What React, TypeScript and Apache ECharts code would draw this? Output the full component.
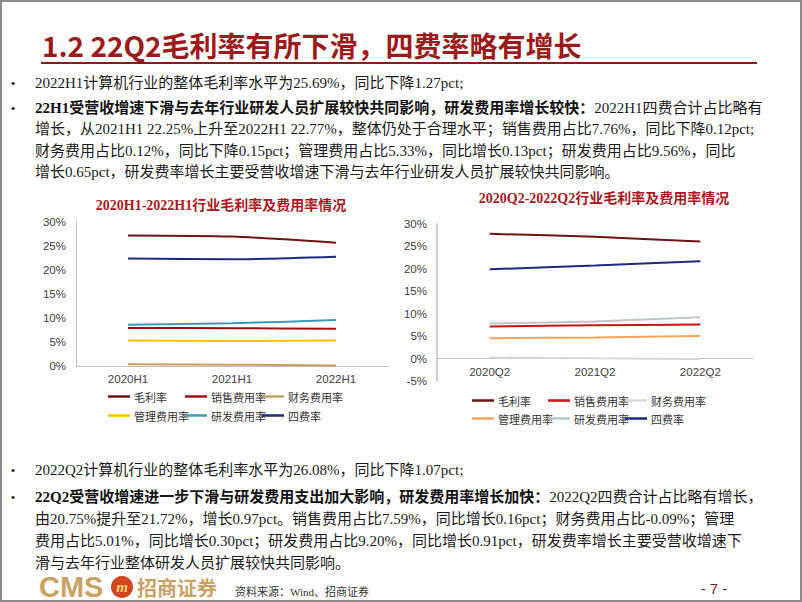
import { useEffect, useRef } from 'react';
import * as echarts from 'echarts';

// ---------- data ----------
const seriesNames = ['毛利率', '销售费用率', '财务费用率', '管理费用率', '研发费用率', '四费率'];

const categoriesH1 = ['2020H1', '2021H1', '2022H1'];
const grossH1 = [27.2, 26.96, 25.69];
const salesH1 = [7.9, 7.88, 7.76];
const financeH1 = [0.38, 0.27, 0.12];
const adminH1 = [5.3, 5.2, 5.33];
const rdH1 = [8.6, 8.91, 9.56];
const fourH1 = [22.4, 22.25, 22.77];

const categoriesQ2 = ['2020Q2', '2021Q2', '2022Q2'];
const grossQ2 = [27.8, 27.15, 26.08];
const salesQ2 = [7.15, 7.43, 7.59];
const financeQ2 = [0.25, 0.05, -0.09];
const adminQ2 = [4.55, 4.71, 5.01];
const rdQ2 = [7.8, 8.29, 9.2];
const fourQ2 = [19.9, 20.75, 21.72];

const yRangeH1 = [0, 30];
const yRangeQ2 = [-5, 30];
const yStep = 5;

const chartTitleH1 = '2020H1-2022H1行业毛利率及费用率情况';
const chartTitleQ2 = '2020Q2-2022Q2行业毛利率及费用率情况';

const slideTitle = '1.2 22Q2毛利率有所下滑，四费率略有增长';

const topLines = [
  { bullet: true, bold: '', text: '2022H1计算机行业的整体毛利率水平为25.69%，同比下降1.27pct;' },
  { bullet: true, bold: '22H1受营收增速下滑与去年行业研发人员扩展较快共同影响，研发费用率增长较快：', text: '2022H1四费合计占比略有' },
  { bullet: false, bold: '', text: '增长，从2021H1 22.25%上升至2022H1 22.77%，整体仍处于合理水平；销售费用占比7.76%，同比下降0.12pct;' },
  { bullet: false, bold: '', text: '财务费用占比0.12%，同比下降0.15pct；管理费用占比5.33%，同比增长0.13pct；研发费用占比9.56%，同比' },
  { bullet: false, bold: '', text: '增长0.65pct，研发费率增长主要受营收增速下滑与去年行业研发人员扩展较快共同影响。' },
];
const bottomLines = [
  { bullet: true, bold: '', text: '2022Q2计算机行业的整体毛利率水平为26.08%，同比下降1.07pct;' },
  { bullet: true, bold: '22Q2受营收增速进一步下滑与研发费用支出加大影响，研发费用率增长加快：', text: '2022Q2四费合计占比略有增长，' },
  { bullet: false, bold: '', text: '由20.75%提升至21.72%，增长0.97pct。销售费用占比7.59%，同比增长0.16pct；财务费用占比-0.09%；管理' },
  { bullet: false, bold: '', text: '费用占比5.01%，同比增长0.30pct；研发费用占比9.20%，同比增长0.91pct，研发费率增长主要受营收增速下' },
  { bullet: false, bold: '', text: '滑与去年行业整体研发人员扩展较快共同影响。' },
];
const sourceText = '资料来源：Wind、招商证券';
const pageText = '- 7 -';

// ---------- styles ----------
const colorsH1 = ['#6E1313', '#A30D0D', '#C4A062', '#FFC000', '#3A9CB4', '#1F2A7E'];
const colorsQ2 = ['#6E1313', '#CC1414', '#D9D9D9', '#F4A35A', '#B8C9C9', '#1F2A7E'];
const BODY_FONT = "'Liberation Serif', 'Noto Sans CJK SC', serif";
const CJK_FONT = "'Noto Sans CJK SC', sans-serif";
const AXIS_FONT = "'Liberation Sans', Arial, sans-serif";

function buildTextLines(lines: any[], x0: number, ys: number[]) {
  const els: any[] = [];
  lines.forEach((ln, i) => {
    if (ln.bullet) {
      els.push({
        type: 'text', x: 13, y: ys[i], silent: true,
        style: { text: '•', fontSize: 13, fontFamily: BODY_FONT, fill: '#1a1a1a', textAlign: 'center', textVerticalAlign: 'middle', align: 'center', verticalAlign: 'middle' },
      });
    }
    const t = ln.bold ? `{b|${ln.bold}}{n|${ln.text}}` : `{n|${ln.text}}`;
    els.push({
      type: 'text', x: x0, y: ys[i], silent: true,
      style: {
        text: t,
        fontSize: 15, fontFamily: BODY_FONT, fill: '#1a1a1a',
        textAlign: 'left', textVerticalAlign: 'middle', align: 'left', verticalAlign: 'middle',
        rich: {
          b: { fontSize: 15, fontFamily: BODY_FONT, fontWeight: 'bold', fill: '#111', color: '#111' },
          n: { fontSize: 15, fontFamily: BODY_FONT, fontWeight: 'normal', fill: '#1a1a1a', color: '#1a1a1a' },
        },
      },
    });
  });
  return els;
}

function makeSeries(datas: number[][], colors: string[], idx: number) {
  return datas.map((d, i) => ({
    name: seriesNames[i],
    type: 'line',
    xAxisIndex: idx,
    yAxisIndex: idx,
    data: d,
    showSymbol: false,
    symbol: 'none',
    smooth: 0.25,
    lineStyle: { width: 2, color: colors[i] },
    itemStyle: { color: colors[i] },
    z: 3,
  }));
}

function makeLegends(colors: string[], cols: number[], rows: number[]) {
  return seriesNames.map((n, i) => ({
    data: [{ name: n, itemStyle: { color: colors[i] }, lineStyle: { color: colors[i] } }],
    left: cols[i % 3],
    top: rows[Math.floor(i / 3)] - 7,
    icon: 'rect',
    itemWidth: 22,
    itemHeight: 2.5,
    itemGap: 0,
    padding: 0,
    selectedMode: false,
    textStyle: { fontSize: 11, color: '#333', fontFamily: CJK_FONT, padding: [0, 0, 0, -1] },
  }));
}

export default function App() {
  const ref = useRef<HTMLDivElement>(null);
  useEffect(() => {
    if (!ref.current) return;
    const chart = echarts.init(ref.current, null, { renderer: 'svg' });

    const axisLabel = { color: '#404040', fontSize: 11.5, fontFamily: AXIS_FONT };
    // grid 2: zero line position inside grid (0 at 22.7px above bottom)
    const q2Height = 157;
    const zeroOffset = (q2Height * (0 - yRangeQ2[0])) / (yRangeQ2[1] - yRangeQ2[0]);
    const option: any = {
      animation: false,
      backgroundColor: '#ffffff',
      grid: [
        { left: 76, top: 222, width: 312, height: 144 },
        { left: 437, top: 224, width: 316, height: q2Height },
      ],
      xAxis: [
        {
          type: 'category', gridIndex: 0, data: categoriesH1, boundaryGap: true,
          axisLine: { lineStyle: { color: '#BFBFBF', width: 1 } }, axisTick: { show: false },
          axisLabel: { ...axisLabel, margin: 7 },
        },
        {
          type: 'category', gridIndex: 1, data: categoriesQ2, boundaryGap: true,
          offset: -zeroOffset,
          axisLine: { onZero: false, lineStyle: { color: '#BFBFBF', width: 1 } }, axisTick: { show: false },
          axisLabel: { ...axisLabel, margin: 7 },
        },
      ],
      yAxis: [
        {
          type: 'value', gridIndex: 0, min: yRangeH1[0], max: yRangeH1[1], interval: yStep,
          axisLine: { show: true, lineStyle: { color: '#BFBFBF', width: 1 } }, axisTick: { show: false },
          splitLine: { show: false }, axisLabel: { ...axisLabel, margin: 10, formatter: '{value}%' },
        },
        {
          type: 'value', gridIndex: 1, min: yRangeQ2[0], max: yRangeQ2[1], interval: yStep,
          axisLine: { show: true, lineStyle: { color: '#BFBFBF', width: 1.5 } }, axisTick: { show: false },
          splitLine: { show: false }, axisLabel: { ...axisLabel, margin: 10, formatter: '{value}%' },
        },
      ],
      legend: [
        ...makeLegends(colorsH1, [108, 185, 262], [398, 417]),
        ...makeLegends(colorsQ2, [472, 548, 625], [402, 420]),
      ],
      series: [
        ...makeSeries([grossH1, salesH1, financeH1, adminH1, rdH1, fourH1], colorsH1, 0),
        ...makeSeries([grossQ2, salesQ2, financeQ2, adminQ2, rdQ2, fourQ2], colorsQ2, 1),
      ],
      graphic: [
        {
          type: 'rect', shape: { x: 1, y: 1, width: 800, height: 600 }, silent: true,
          style: { fill: 'none', stroke: '#8c8c8c', lineWidth: 2 }, z: 100,
        },
        {
          type: 'text', x: 42, y: 45, silent: true,
          style: { text: slideTitle, fontSize: 28, fontWeight: 'bold', fontFamily: CJK_FONT, fill: '#9C1A1A', textAlign: 'left', textVerticalAlign: 'middle', align: 'left', verticalAlign: 'middle' },
        },
        {
          type: 'line', silent: true, shape: { x1: 41, y1: 63, x2: 757, y2: 63 },
          style: { stroke: '#8B1A1A', lineWidth: 2 },
        },
        {
          type: 'text', x: 221, y: 205, silent: true,
          style: { text: chartTitleH1, fontSize: 14, fontWeight: 'bold', fontFamily: BODY_FONT, fill: '#A8171B', textAlign: 'center', textVerticalAlign: 'middle', align: 'center', verticalAlign: 'middle' },
        },
        {
          type: 'text', x: 604, y: 198, silent: true,
          style: { text: chartTitleQ2, fontSize: 14, fontWeight: 'bold', fontFamily: BODY_FONT, fill: '#A8171B', textAlign: 'center', textVerticalAlign: 'middle', align: 'center', verticalAlign: 'middle' },
        },
        ...buildTextLines(topLines, 35, [83, 108, 129, 151, 172]),
        ...buildTextLines(bottomLines, 35, [470, 497, 519, 541, 563]),
        {
          type: 'text', x: 39, y: 587, silent: true,
          style: { text: 'CMS', fontSize: 29, fontWeight: 'bold', fontFamily: AXIS_FONT, fill: '#C9A265', textAlign: 'left', textVerticalAlign: 'middle', align: 'left', verticalAlign: 'middle' },
        },
        {
          type: 'circle', silent: true, shape: { cx: 122, cy: 587, r: 11 },
          style: { fill: '#D2451E' },
        },
        {
          type: 'text', x: 122, y: 587, silent: true,
          style: { text: 'm', fontSize: 15, fontWeight: 'bold', fontStyle: 'italic', fontFamily: "'Liberation Serif', serif", fill: '#F7D27A', textAlign: 'center', textVerticalAlign: 'middle', align: 'center', verticalAlign: 'middle' },
        },
        {
          type: 'text', x: 137, y: 587, silent: true,
          style: { text: '招商证券', fontSize: 20, fontWeight: 'bold', fontFamily: CJK_FONT, fill: '#C9A265', textAlign: 'left', textVerticalAlign: 'middle', align: 'left', verticalAlign: 'middle' },
        },
        {
          type: 'text', x: 235, y: 592, silent: true,
          style: { text: sourceText, fontSize: 11, fontFamily: BODY_FONT, fill: '#333', textAlign: 'left', textVerticalAlign: 'middle', align: 'left', verticalAlign: 'middle' },
        },
        {
          type: 'text', x: 714, y: 588, silent: true,
          style: { text: pageText, fontSize: 15, fontFamily: AXIS_FONT, fill: '#8B1A1A', textAlign: 'center', textVerticalAlign: 'middle', align: 'center', verticalAlign: 'middle' },
        },
      ],
    };
    chart.setOption(option);
    return () => chart.dispose();
  }, []);
  return (
    <div
      ref={ref}
      style={{ position: 'absolute', left: 0, top: 0, width: 802, height: 602, background: '#fff' }}
    />
  );
}
